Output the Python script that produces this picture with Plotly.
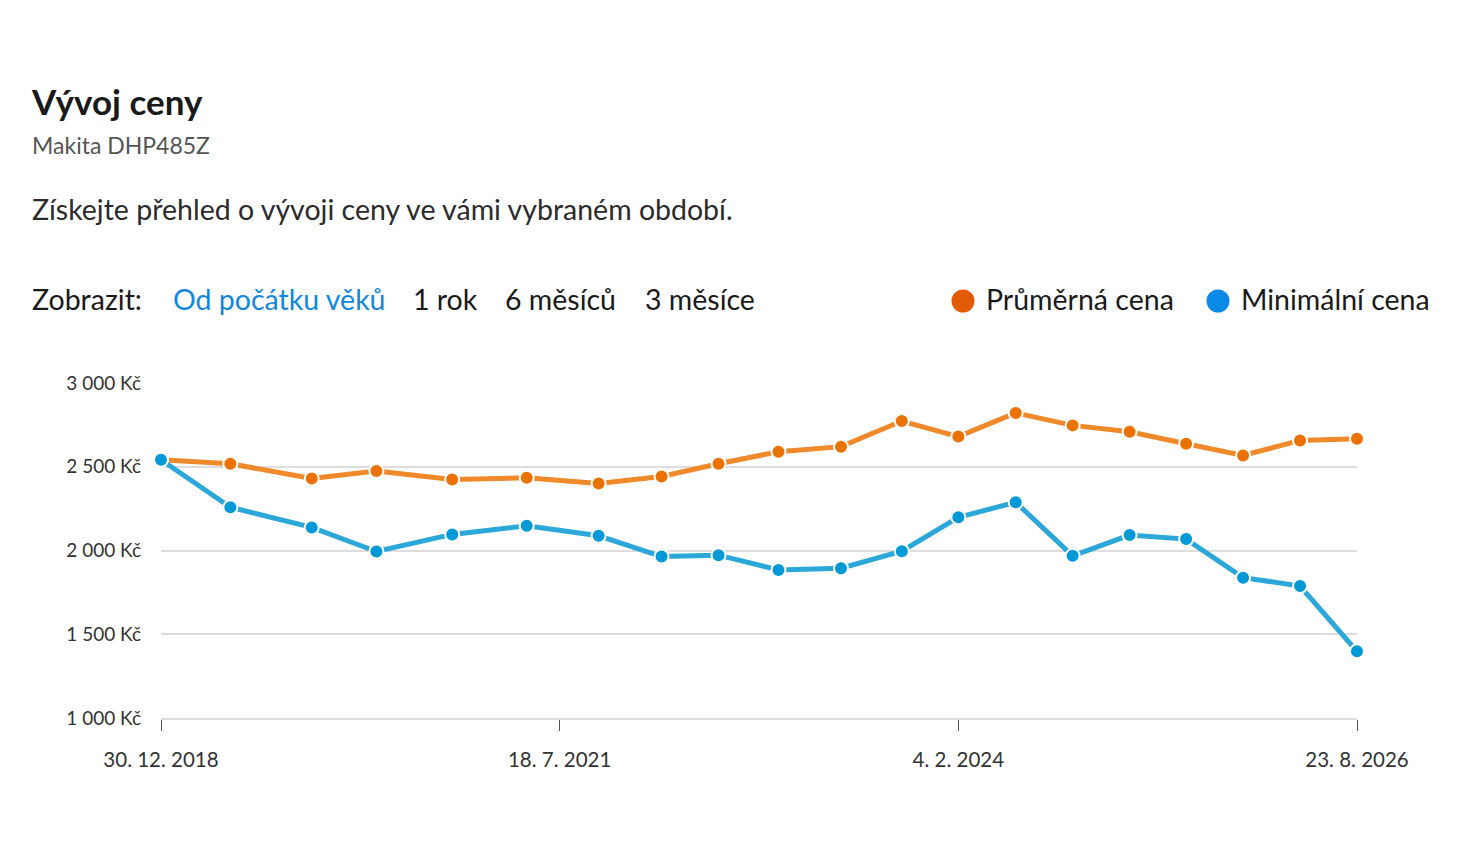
import plotly.graph_objects as go

# dates of the price points
dates = ["2018-12-30", "2019-06-10", "2019-12-17", "2020-05-16", "2020-11-09",
         "2021-05-02", "2021-10-17", "2022-03-13", "2022-07-24", "2022-12-11",
         "2023-05-06", "2023-09-25", "2024-02-04", "2024-06-17", "2024-10-28",
         "2025-03-10", "2025-07-20", "2025-11-30", "2026-04-12", "2026-08-23"]

avg_price = [2542, 2518, 2430, 2474, 2424, 2434, 2400, 2442, 2518, 2590,
             2620, 2773, 2680, 2821, 2747, 2709, 2637, 2567, 2657, 2667]

min_price = [2542, 2258, 2138, 1994, 2096, 2148, 2088, 1964, 1972, 1884,
             1894, 1996, 2198, 2288, 1968, 2092, 2068, 1838, 1788, 1398]

y_ticks = [1000, 1500, 2000, 2500, 3000]
y_labels = ["1 000 Kč", "1 500 Kč", "2 000 Kč", "2 500 Kč", "3 000 Kč"]
x_ticks = ["2018-12-30", "2021-07-18", "2024-02-04", "2026-08-23"]
x_labels = ["30. 12. 2018", "18. 7. 2021", "4. 2. 2024", "23. 8. 2026"]

FONT = "Lato"
OFF = 8  # page body margin
W, H = 1462 - 2 * OFF, 866 - 2 * OFF
L, R, T, B = 161 - OFF, 1357 - OFF, 383 - OFF, 718 - OFF

def px(x):
    return (x - OFF - L) / (R - L)

def py(y):
    return (B - (y - OFF)) / (B - T)

fig = go.Figure()
fig.add_trace(go.Scatter(x=dates, y=avg_price, mode="lines+markers", name="Průměrná cena",
                         line=dict(color="#f0892a", width=5), cliponaxis=False,
                         marker=dict(color="#eb7100", size=14, line=dict(color="white", width=2)),
                         showlegend=False))
fig.add_trace(go.Scatter(x=dates, y=min_price, mode="lines+markers", name="Minimální cena",
                         line=dict(color="#2ba7d9", width=5), cliponaxis=False,
                         marker=dict(color="#0099d8", size=14, line=dict(color="white", width=2)),
                         showlegend=False))

ann = []
def text(x, y, s, size, color="#222222", bold=False):
    if bold:
        s = "<b>" + s + "</b>"
    ann.append(dict(x=px(x), y=py(y), xref="paper", yref="paper", text=s, showarrow=False,
                    xanchor="left", yanchor="middle", xshift=-2,
                    font=dict(family=FONT, size=size, color=color)))

text(31, 101, "Vývoj ceny", 35, "#1a1a1a", bold=True)
text(32, 145, "Makita DHP485Z", 23, "#555555")
text(32, 209, "Získejte přehled o vývoji ceny ve vámi vybraném období.", 28.5, "#2b2b2b")
text(32, 299, "Zobrazit:", 28.5, "#1a1a1a")
text(173, 299, "Od počátku věků", 28.5, "#1188dd")
text(413, 299, "1 rok", 28.5, "#1a1a1a")
text(505, 299, "6 měsíců", 28.5, "#1a1a1a")
text(645, 299, "3 měsíce", 28.5, "#1a1a1a")
text(986, 299, "Průměrná cena", 28.5, "#1a1a1a")
text(1241, 299, "Minimální cena", 28.5, "#1a1a1a")

shapes = []
for cx, col in [(963, "#e35a05"), (1218, "#0a8ae6")]:
    shapes.append(dict(type="circle", xref="paper", yref="paper",
                       xsizemode="pixel", ysizemode="pixel",
                       xanchor=px(cx), yanchor=py(301),
                       x0=-11.5, x1=11.5, y0=-11.5, y1=11.5,
                       fillcolor=col, line=dict(width=0)))

fig.update_layout(
    width=W, height=H,
    margin=dict(l=L, r=W - R, t=T, b=H - B, pad=0),
    paper_bgcolor="white", plot_bgcolor="white",
    annotations=ann, shapes=shapes,
    font=dict(family=FONT, color="#333333"),
    xaxis=dict(range=[dates[0], dates[-1]], tickvals=x_ticks, ticktext=x_labels,
               showgrid=False, zeroline=False, showline=True, linecolor="#dddddd", linewidth=2,
               ticks="outside", ticklen=11, tickcolor="#555555", tickwidth=1,
               ticklabelstandoff=11, tickfont=dict(size=20.5, color="#333333")),
    yaxis=dict(range=[1000, 3000], tickvals=y_ticks, ticktext=y_labels,
               showgrid=True, gridcolor="#dddddd", gridwidth=2, zeroline=False,
               showline=False, ticks="", ticklabelstandoff=19,
               tickfont=dict(size=19, color="#333333")),
)

fig.write_html("out.html")
